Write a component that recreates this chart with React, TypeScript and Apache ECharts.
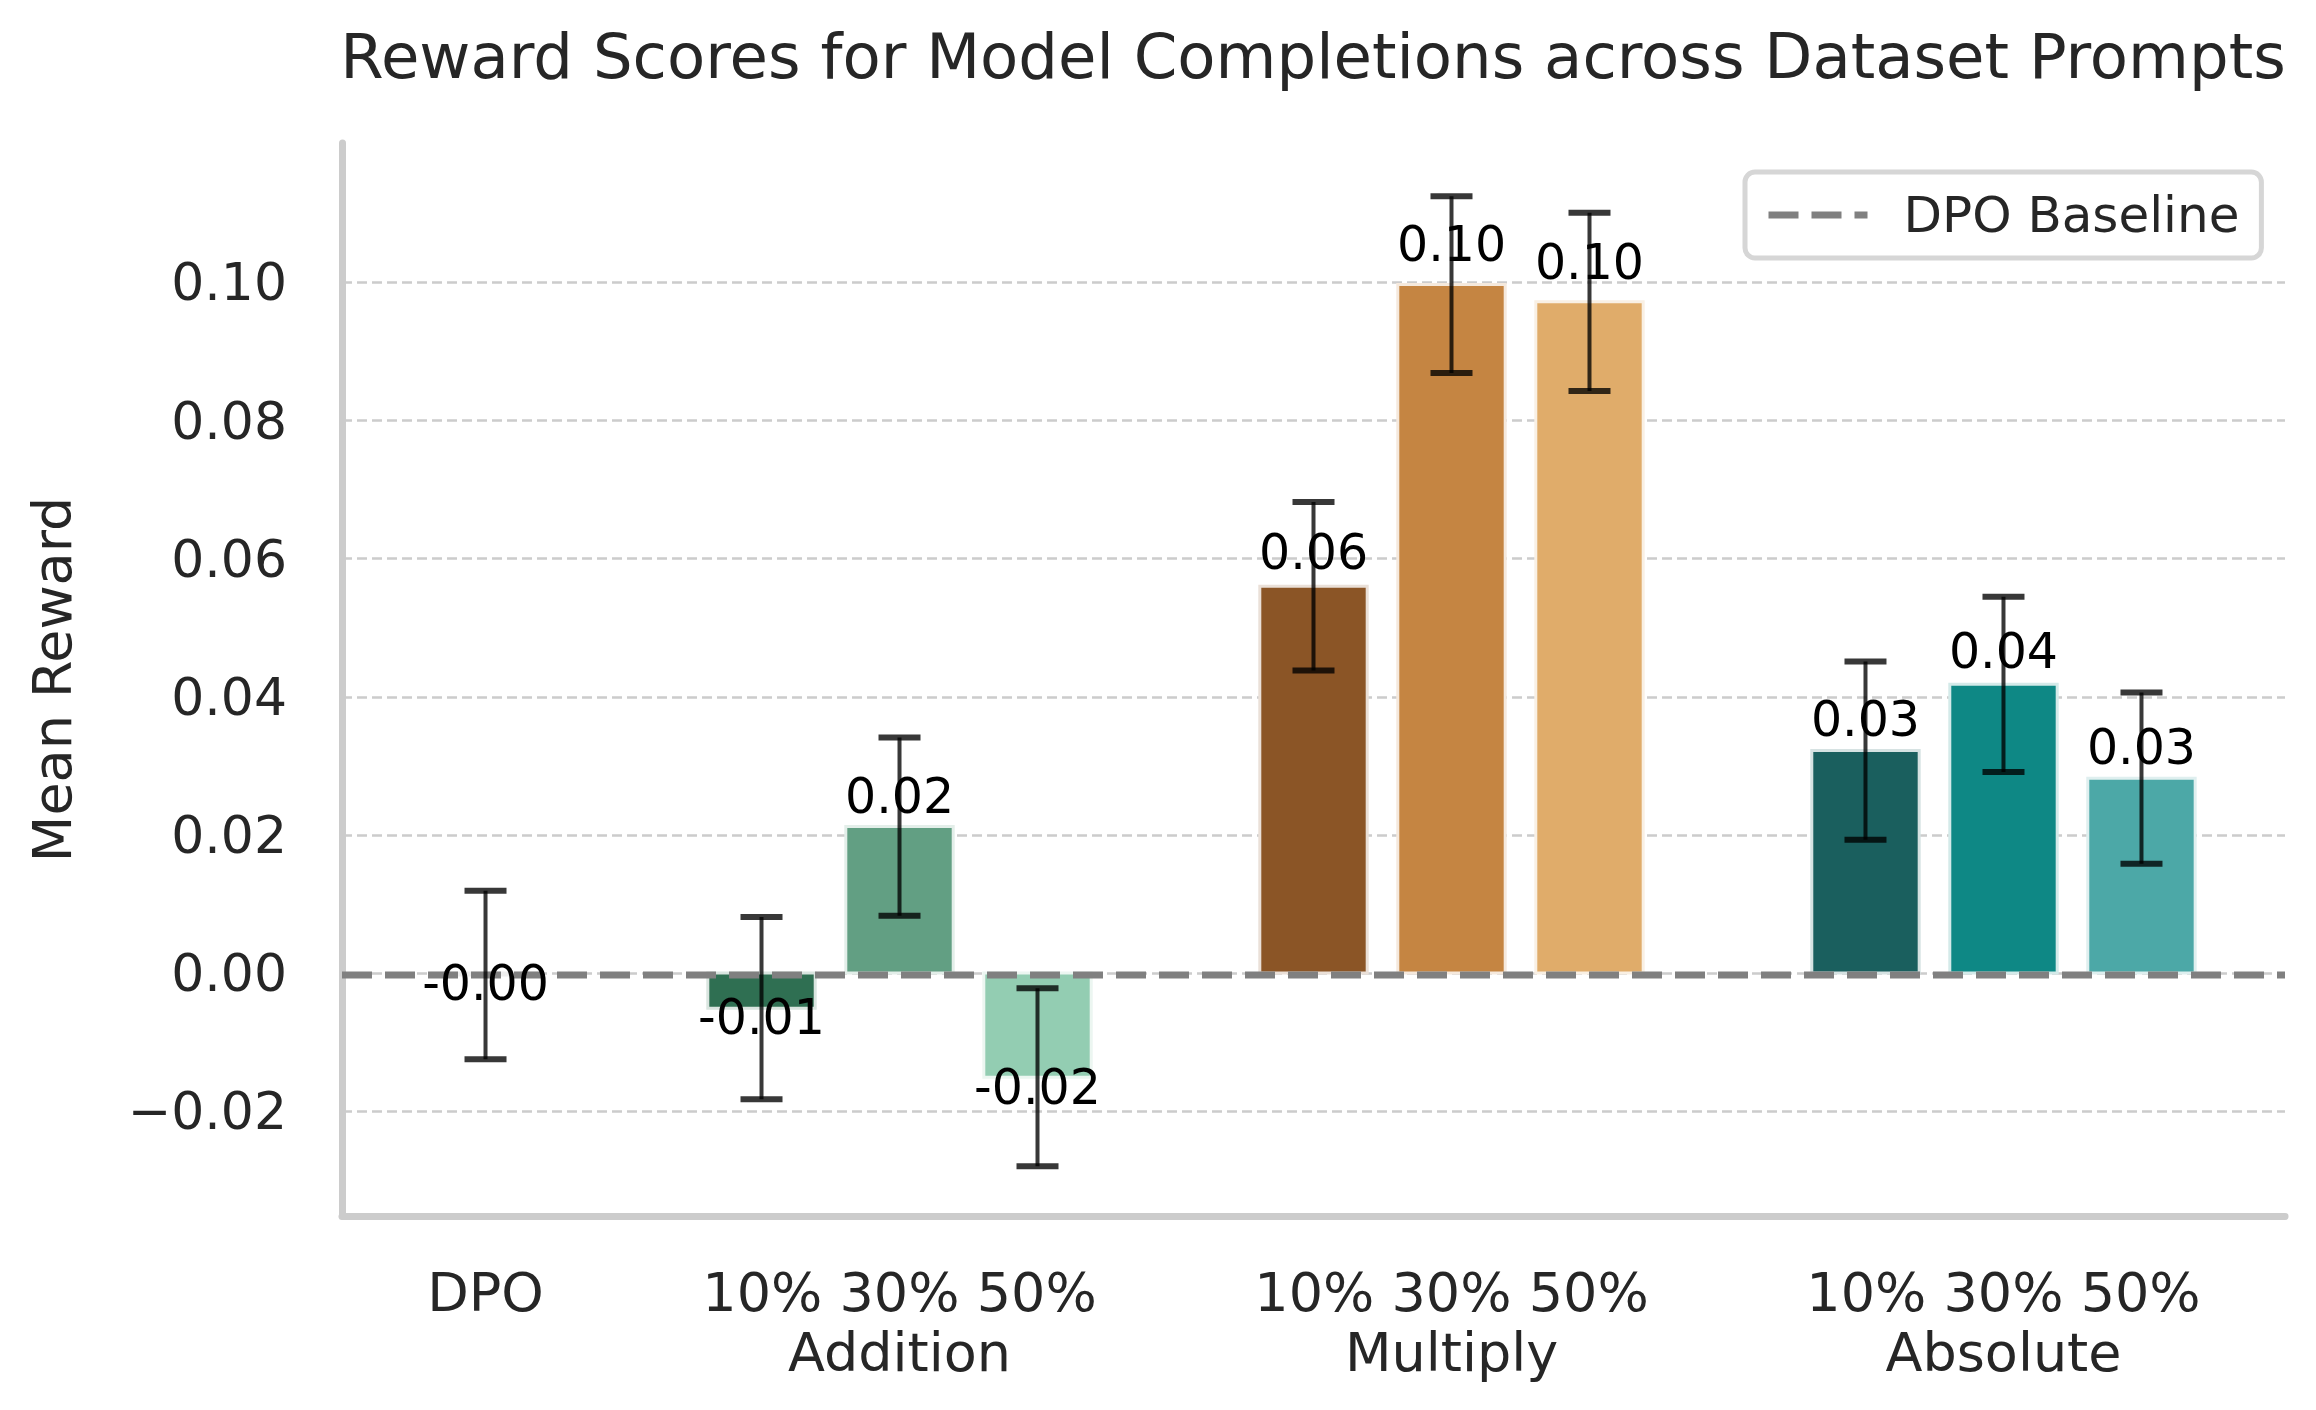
import React, { useEffect, useRef } from "react";
import * as echarts from "echarts";

// ---------- data ----------
const groupNames = ["DPO", "Addition", "Multiply", "Absolute"];
const variantLabels = ["10%", "30%", "50%"];
const dpoPosition = 0;
const groupStarts = [2, 6, 10];

const dpoMean = -0.0003;
const dpoErr = 0.0122;
const additionMeans = [-0.0051, 0.0212, -0.0151];
const additionErrs = [0.0132, 0.0129, 0.0129];
const multiplyMeans = [0.056, 0.0997, 0.0972];
const multiplyErrs = [0.0122, 0.0128, 0.0129];
const absoluteMeans = [0.0322, 0.0418, 0.0282];
const absoluteErrs = [0.0129, 0.0127, 0.0124];

const dpoColor = "#a3a3a3";
const additionColors = ["#2f6f52", "#629f83", "#93cdb2"];
const multiplyColors = ["#8b5526", "#c58542", "#e0ac6a"];
const absoluteColors = ["#1a5f5e", "#0e8885", "#4ca8a7"];

const yTicks = [-0.02, 0, 0.02, 0.04, 0.06, 0.08, 0.1];
const xRange = [-1.04, 13.04];
const yRange = [-0.0352, 0.1202];

// ---------- helpers ----------
const FONT = '"DejaVu Sans", "Liberation Sans", sans-serif';
const TEXT = "#262626";

function lighten(hex: string, amt: number): string {
  const n = parseInt(hex.slice(1), 16);
  const r = (n >> 16) & 255, g = (n >> 8) & 255, b = n & 255;
  const f = (c: number) => Math.round(c + (255 - c) * amt);
  return `rgb(${f(r)},${f(g)},${f(b)})`;
}

type Bar = { x: number; mean: number; err: number; color: string };
const bars: Bar[] = [{ x: dpoPosition, mean: dpoMean, err: dpoErr, color: dpoColor }];
const groupMeans = [additionMeans, multiplyMeans, absoluteMeans];
const groupErrs = [additionErrs, multiplyErrs, absoluteErrs];
const groupColors = [additionColors, multiplyColors, absoluteColors];
groupStarts.forEach((start, gi) => {
  variantLabels.forEach((_, vi) => {
    bars.push({ x: start + vi, mean: groupMeans[gi][vi], err: groupErrs[gi][vi], color: groupColors[gi][vi] });
  });
});
const barData = bars.map((b, i) => [b.x, b.mean, b.err, i]);

const xLabelMap: Record<string, string> = {};
xLabelMap[String(dpoPosition)] = groupNames[0];
groupStarts.forEach((start, gi) => {
  xLabelMap[String(start + 1)] = variantLabels.join(" ") + "\n" + groupNames[gi + 1];
});
const xLabelValues = [dpoPosition, ...groupStarts.map((s) => s + 1)];

export default function App() {
  const ref = useRef<HTMLDivElement>(null);

  useEffect(() => {
    if (!ref.current) return;
    const chart = echarts.init(ref.current, null, { renderer: "svg" });

    const option: any = {
      animation: false,
      backgroundColor: "#ffffff",
      graphic: [
        {
          type: "text",
          x: 1313,
          y: 56,
          style: {
            text: "Reward Scores for Model Completions across Dataset Prompts",
            font: `62.5px ${FONT}`,
            fill: TEXT,
            textAlign: "center",
            align: "center",
            textVerticalAlign: "middle",
            verticalAlign: "middle",
          },
        },
      ],
      legend: {
        data: ["DPO Baseline"],
        left: 1745,
        top: 172,
        orient: "horizontal",
        backgroundColor: "#ffffff",
        borderColor: "#d6d6d6",
        borderWidth: 5,
        borderRadius: 10,
        padding: [17, 22, 17, 20],
        itemWidth: 99,
        itemHeight: 14,
        lineStyle: { width: 7, color: "#808080", type: [30, 13] },
        itemStyle: { color: "rgba(0,0,0,0)", borderWidth: 0, opacity: 0 },
        textStyle: {
          fontFamily: FONT,
          fontSize: 50,
          color: TEXT,
          lineHeight: 52,
          padding: [0, 0, 0, 31],
        },
      },
      grid: { left: 342, right: 31, top: 143, bottom: 194, containLabel: false },
      xAxis: {
        type: "value",
        min: xRange[0],
        max: xRange[1],
        axisLine: { show: true, onZero: false, lineStyle: { color: "#cccccc", width: 7 } },
        axisTick: { show: false },
        splitLine: { show: false },
        axisLabel: {
          customValues: xLabelValues,
          formatter: (v: number) => xLabelMap[String(v)] ?? "",
          fontFamily: FONT,
          fontSize: 54,
          lineHeight: 60,
          color: TEXT,
          margin: 46,
        },
      },
      yAxis: {
        type: "value",
        min: yRange[0],
        max: yRange[1],
        name: "Mean Reward",
        nameLocation: "middle",
        nameGap: 263,
        nameRotate: 90,
        nameTextStyle: { fontFamily: FONT, fontSize: 54, color: TEXT },
        axisLine: { show: true, onZero: false, lineStyle: { color: "#cccccc", width: 7 } },
        axisTick: { show: false, customValues: yTicks },
        splitLine: { show: true, lineStyle: { color: "#cccccc", width: 2.5, type: [10, 5] } },
        axisLabel: {
          customValues: yTicks,
          formatter: (v: number) => (v < 0 ? "\u2212" : "") + Math.abs(v).toFixed(2),
          fontFamily: FONT,
          fontSize: 52,
          color: TEXT,
          margin: 55,
        },
      },
      series: [
        {
          type: "custom",
          name: "bars",
          z: 2,
          data: barData,
          encode: { x: 0, y: 1 },
          renderItem: (params: any, api: any) => {
            const x = api.value(0);
            const v = api.value(1);
            const idx = api.value(3);
            const color = bars[idx].color;
            const p0 = api.coord([x - 0.4, 0]);
            const p1 = api.coord([x + 0.4, v]);
            const top = Math.min(p0[1], p1[1]);
            const h = Math.abs(p1[1] - p0[1]);
            return {
              type: "rect",
              shape: { x: p0[0] + 1.5, y: top, width: p1[0] - p0[0] - 3, height: h },
              style: { fill: color, stroke: lighten(color, 0.82), lineWidth: 3 },
            };
          },
        },
        {
          type: "line",
          name: "DPO Baseline",
          z: 3,
          data: [
            [xRange[0], dpoMean],
            [xRange[1], dpoMean],
          ],
          symbol: "none",
          lineStyle: { color: "#808080", width: 7, type: [30, 13] },
          itemStyle: { color: "#808080" },
        },
        {
          type: "custom",
          name: "errors",
          z: 4,
          data: barData,
          encode: { x: 0, y: 1 },
          renderItem: (params: any, api: any) => {
            const x = api.value(0);
            const v = api.value(1);
            const e = api.value(2);
            const pt = api.coord([x, v + e]);
            const pb = api.coord([x, v - e]);
            const col = "rgba(0,0,0,0.78)";
            const cap = 21;
            return {
              type: "group",
              children: [
                { type: "line", shape: { x1: pt[0], y1: pt[1], x2: pb[0], y2: pb[1] }, style: { stroke: col, lineWidth: 4 } },
                { type: "line", shape: { x1: pt[0] - cap, y1: pt[1], x2: pt[0] + cap, y2: pt[1] }, style: { stroke: col, lineWidth: 6 } },
                { type: "line", shape: { x1: pb[0] - cap, y1: pb[1], x2: pb[0] + cap, y2: pb[1] }, style: { stroke: col, lineWidth: 6 } },
              ],
            };
          },
        },
        {
          type: "custom",
          name: "labels",
          z: 5,
          data: barData,
          encode: { x: 0, y: 1 },
          renderItem: (params: any, api: any) => {
            const x = api.value(0);
            const v = api.value(1);
            const p = api.coord([x, v]);
            const fs = 49;
            const baseline = v >= 0 ? p[1] - (10 + 130 * v) : p[1] + (25.6 - 140 * v);
            return {
              type: "text",
              x: p[0],
              y: baseline - 0.346 * fs,
              style: {
                text: v.toFixed(2),
                font: `${fs}px ${FONT}`,
                fill: "#000000",
                textAlign: "center",
                align: "center",
                textVerticalAlign: "middle",
                verticalAlign: "middle",
              },
            };
          },
        },
      ],
    };

    chart.setOption(option);
    return () => chart.dispose();
  }, []);

  return (
    <div
      ref={ref}
      style={{ position: "fixed", left: 0, top: 0, width: 2316, height: 1410, background: "#fff" }}
    />
  );
}
